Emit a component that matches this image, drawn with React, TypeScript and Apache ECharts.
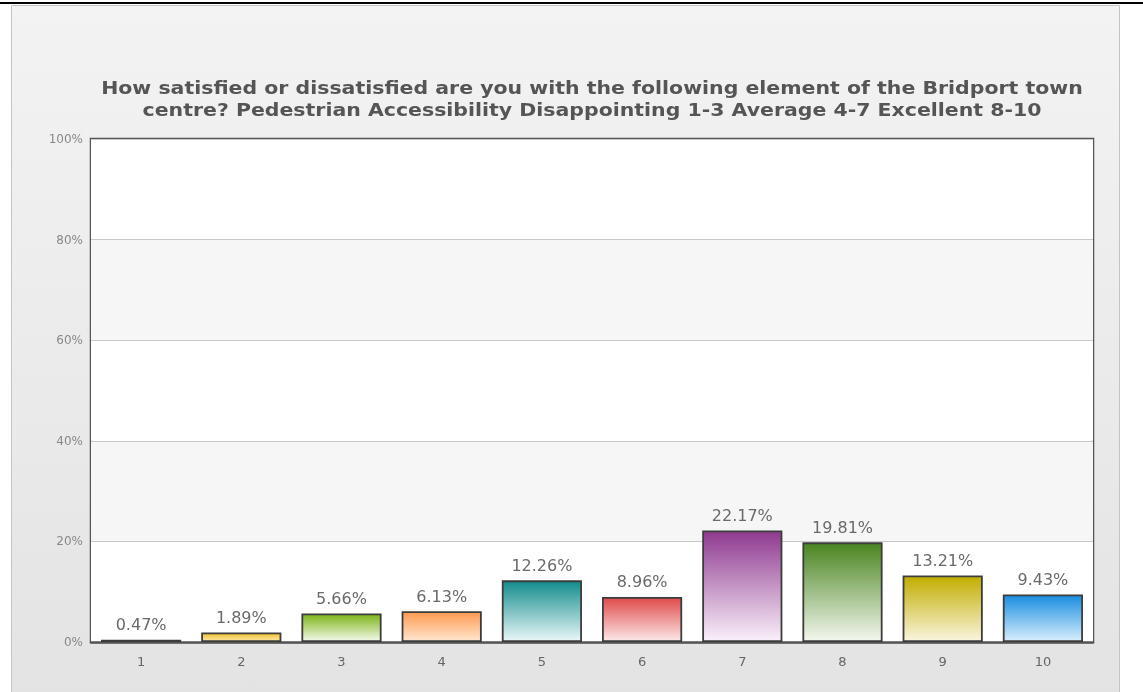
import React, { useEffect, useRef } from "react";
import * as echarts from "echarts";

const titleLines = [
  "How satisfied or dissatisfied are you with the following element of the Bridport town",
  "centre? Pedestrian Accessibility Disappointing 1-3 Average 4-7 Excellent 8-10",
];
const categories = ["1", "2", "3", "4", "5", "6", "7", "8", "9", "10"];
const values = [0.47, 1.89, 5.66, 6.13, 12.26, 8.96, 22.17, 19.81, 13.21, 9.43];
const topColors = ["#8a8a8a", "#f0c030", "#7cb51a", "#ff9a50", "#138c8c", "#e04a4a", "#8f3a8f", "#4a8520", "#c2ad00", "#1a8ee0"];
const bottomColors = ["#dcdcdc", "#fde7a6", "#f4f9ea", "#ffe6d0", "#eaf7f9", "#fbe8e8", "#faf0fa", "#f4f7ef", "#faf5de", "#d8eefc"];
const yTicks = [0, 20, 40, 60, 80, 100];

export default function App() {
  const ref = useRef<HTMLDivElement>(null);
  useEffect(() => {
    if (!ref.current) return;
    const chart = echarts.init(ref.current, undefined, { renderer: "svg" });
    const font = "DejaVu Sans, Verdana, sans-serif";
    chart.setOption({
      animation: false,
      graphic: [
        {
          type: "rect",
          z: -10,
          silent: true,
          shape: { x: 11.5, y: 5.5, width: 1108, height: 700 },
          style: {
            fill: new echarts.graphic.LinearGradient(0, 0, 0, 1, [
              { offset: 0, color: "#f3f3f3" },
              { offset: 1, color: "#e3e3e3" },
            ]),
            stroke: "#c4c4c4",
            lineWidth: 1,
          },
        },
        {
          type: "line",
          z: 10,
          silent: true,
          shape: { x1: 0, y1: 3, x2: 1143, y2: 3 },
          style: { stroke: "#000", lineWidth: 2 },
        },
        ...titleLines.map((t, i) => ({
          type: "text",
          z: 10,
          silent: true,
          x: 592,
          y: 88 + i * 22,
          scaleX: 1.205,
          style: {
            text: t,
            fontFamily: font,
            fontSize: 17,
            fontWeight: "bold",
            fill: "#555",
            align: "center",
            verticalAlign: "middle",
          },
        })),
      ],
      grid: {
        left: 91,
        top: 139,
        width: 1002,
        height: 503,
        show: true,
        backgroundColor: "#ffffff",
        borderColor: "#555",
        borderWidth: 2.5,
        containLabel: false,
      },
      xAxis: {
        type: "category",
        data: categories,
        axisLine: { show: true, lineStyle: { color: "#555", width: 2.5 } },
        axisTick: { show: false },
        axisLabel: { color: "#666", fontSize: 13, fontFamily: font, margin: 13 },
      },
      yAxis: {
        type: "value",
        min: 0,
        max: 100,
        interval: 20,
        axisLine: { show: false },
        axisTick: { show: false },
        axisLabel: {
          color: "#888",
          fontSize: 12,
          fontFamily: font,
          margin: 8,
          formatter: (v: number) => (yTicks.includes(v) ? v + "%" : ""),
        },
        splitLine: { show: true, lineStyle: { color: "#c8c8c8", width: 1 } },
        splitArea: { show: true, areaStyle: { color: ["#ffffff", "#f6f6f6"] } },
      },
      series: [
        {
          type: "bar",
          barCategoryGap: "20%",
          data: values.map((v, i) => ({
            value: v,
            itemStyle: {
              color: new echarts.graphic.LinearGradient(0, 0, 0, 1, [
                { offset: 0, color: topColors[i] },
                { offset: 1, color: bottomColors[i] },
              ]),
              borderColor: "#3c3c3c",
              borderWidth: 1.8,
            },
          })),
          label: {
            show: true,
            position: "top",
            distance: 7,
            color: "#6a6a6a",
            fontSize: 16,
            fontFamily: font,
            formatter: (p: any) => p.value.toFixed(2) + "%",
          },
        },
      ],
    });
    return () => chart.dispose();
  }, []);
  return (
    <div
      ref={ref}
      style={{ position: "fixed", left: 0, top: 0, width: 1143, height: 692 }}
    />
  );
}
